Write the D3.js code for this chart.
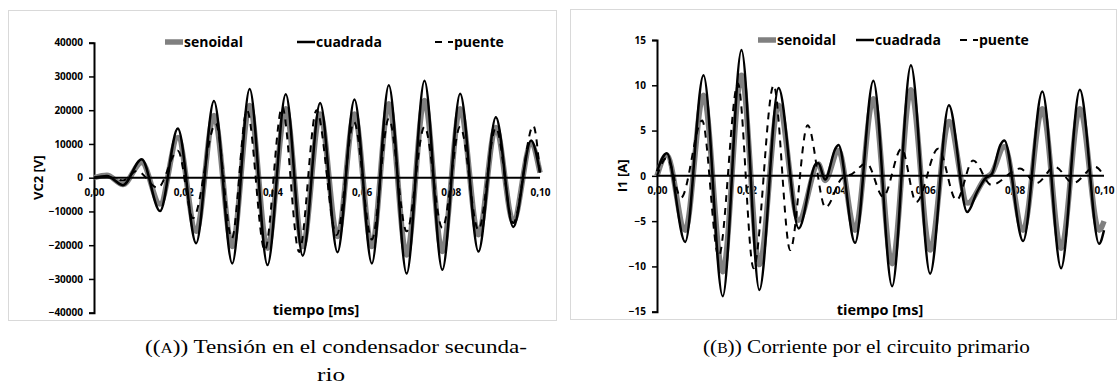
<!DOCTYPE html>
<html>
<head>
<meta charset="utf-8">
<script src="https://cdn.jsdelivr.net/npm/d3@7"></script>
<style>
  html, body { margin: 0; padding: 0; background: #fff; }
  svg { display: block; }
  .tick-label { font-family: "Open Sans", Lato, sans-serif; font-weight: 700; font-size: 10px; fill: #000; }
  .legend-label, .axis-title { font-family: "Open Sans", Lato, sans-serif; font-weight: 700; fill: #000; }
  .caption { font-family: "Liberation Serif", "DejaVu Serif", serif; fill: #000; }
</style>
</head>
<body>
<svg id="chart" width="1117" height="388"></svg>
<script>
// Time axis (ms)
const xTicks = [0, 0.02, 0.04, 0.06, 0.08, 0.10];
const xTickLabels = ["0,00", "0,02", "0,04", "0,06", "0,08", "0,10"];

// Legend entries
const seriesNames = ["senoidal", "cuadrada", "puente"];

// Panel (a): VC2 [V] — [time, value] at turning points of each waveform
const vc2Ticks = [-40000, -30000, -20000, -10000, 0, 10000, 20000, 30000, 40000];
const vc2Senoidal = [
  [0, 0], [0.0029, 700], [0.0065, -2000], [0.0107, 4500], [0.0148, -7800],
  [0.0188, 11900], [0.0229, -15900], [0.0269, 18400], [0.0310, -20400],
  [0.0349, 21400], [0.0389, -20900], [0.0430, 20400], [0.0468, -20400],
  [0.0507, 18900], [0.0546, -17400], [0.0584, 18900], [0.0623, -20400],
  [0.0661, 21900], [0.0701, -22900], [0.0741, 22900], [0.0781, -21900],
  [0.0821, 20400], [0.0862, -16900], [0.0901, 14900], [0.0940, -12900],
  [0.0980, 10000], [0.1000, 1500]
];
const vc2Cuadrada = [
  [0, 0], [0.0029, 500], [0.0065, -2200], [0.0107, 5500], [0.0148, -9900],
  [0.0188, 14600], [0.0229, -19400], [0.0269, 22700], [0.0310, -25400],
  [0.0349, 26300], [0.0389, -25900], [0.0430, 24700], [0.0468, -23100],
  [0.0507, 22100], [0.0546, -22100], [0.0584, 23200], [0.0623, -25400],
  [0.0661, 27400], [0.0701, -28400], [0.0741, 28700], [0.0781, -27300],
  [0.0821, 24900], [0.0862, -21900], [0.0901, 17900], [0.0940, -14600],
  [0.0980, 11000], [0.1000, 1500]
];
const vc2Puente = [
  [0, 0], [0.0029, 300], [0.0065, -800], [0.0096, 2000], [0.0143, -3000],
  [0.0188, 8000], [0.0222, -12000], [0.0273, 16000], [0.0309, -18000],
  [0.0343, 20000], [0.0383, -21500], [0.0422, 21000], [0.0460, -22000],
  [0.0499, 20000], [0.0544, -17000], [0.0583, 16500], [0.0623, -18300],
  [0.0661, 17500], [0.0701, -15900], [0.0741, 15100], [0.0781, -14900],
  [0.0821, 15100], [0.0862, -15500], [0.0901, 14800], [0.0940, -13400],
  [0.0985, 15400], [0.1000, 1000]
];

// Panel (b): I1 [A]
const i1Ticks = [-15, -10, -5, 0, 5, 10, 15];
const i1Senoidal = [
  [0, 0], [0.0022, 2.3], [0.0063, -6.0], [0.0104, 8.9], [0.0147, -10.6],
  [0.0189, 11.1], [0.0229, -9.8], [0.0272, 7.8], [0.0317, -4.9],
  [0.0361, 1.3], [0.0376, -0.5], [0.0406, 2.8], [0.0443, -6.0],
  [0.0484, 8.5], [0.0526, -9.7], [0.0568, 9.5], [0.0611, -8.2],
  [0.0653, 6.0], [0.0695, -3.0], [0.0734, -0.3], [0.0749, 0.3],
  [0.0777, 3.2], [0.0819, -6.0], [0.0862, 7.4], [0.0904, -8.0],
  [0.0946, 7.4], [0.0989, -6.0], [0.1000, -5.0]
];
const i1Cuadrada = [
  [0, 0.5], [0.0022, 2.5], [0.0063, -7.3], [0.0104, 11.1], [0.0147, -13.3],
  [0.0189, 13.9], [0.0229, -12.6], [0.0272, 9.7], [0.0317, -5.8],
  [0.0355, 1.3], [0.0361, 1.4], [0.0376, -0.4], [0.0399, 3.0], [0.0406, 3.4],
  [0.0443, -7.4], [0.0484, 10.5], [0.0526, -12.2], [0.0568, 12.2],
  [0.0611, -10.8], [0.0653, 7.8], [0.0694, -4.0], [0.0716, -1.8],
  [0.0734, -0.3], [0.0749, 0.2], [0.0768, 3.4], [0.0777, 3.9],
  [0.0819, -7.2], [0.0862, 9.3], [0.0904, -10.2], [0.0946, 9.5],
  [0.0989, -7.5], [0.1000, -6.0]
];
const i1Puente = [
  [0, 0], [0.0022, 2.0], [0.0054, -2.4], [0.0101, 6.1], [0.0138, -8.9],
  [0.0181, 10.2], [0.0216, -10.2], [0.0261, 10.0], [0.0298, -8.2],
  [0.0337, 5.6], [0.0377, -3.5], [0.0413, -0.3], [0.0436, 0.2],
  [0.0469, 1.4], [0.0506, -2.3], [0.0547, 3.0], [0.0580, -2.9],
  [0.0629, 3.0], [0.0670, -2.7], [0.0707, 1.7], [0.0748, -1.0],
  [0.0812, 0.8], [0.0849, -0.8], [0.0890, 1.0], [0.0931, -0.8],
  [0.0980, 1.0], [0.1000, 0]
];

const svg = d3.select("#chart");

const seriesStyles = [
  { stroke: "#808080", width: 5.5, dash: null },
  { stroke: "#000", width: 2.5, dash: null },
  { stroke: "#000", width: 2, dash: "7,6" }
];

function drawPanel(cfg) {
  const g = svg.append("g");

  // outer frame
  g.append("rect")
    .attr("x", cfg.frame[0] + 0.5).attr("y", cfg.frame[1] + 0.5)
    .attr("width", cfg.frame[2]).attr("height", cfg.frame[3])
    .attr("fill", "#fff").attr("stroke", "#d9d9d9").attr("stroke-width", 1);

  const x = d3.scaleLinear().domain([0, 0.1]).range([cfg.left, cfg.right]);
  const y = d3.scaleLinear().domain(d3.extent(cfg.yTicks)).range([cfg.bottom, cfg.top]);

  // y axis with outward ticks
  const yAxis = d3.axisLeft(y).tickValues(cfg.yTicks).tickSize(5).tickPadding(6).tickFormat(d3.format("d"));
  const ya = g.append("g").attr("transform", `translate(${cfg.left},0)`).call(yAxis);
  ya.select(".domain").attr("stroke", "#000").attr("stroke-width", 2);
  ya.selectAll(".tick line").attr("stroke", "#000").attr("stroke-width", 1.5);
  ya.selectAll(".tick text").attr("class", "tick-label").attr("font-family", null).attr("font-size", null);

  // x axis labels hang below the zero line
  const xAxis = d3.axisBottom(x).tickValues(xTicks).tickSize(0).tickPadding(11)
    .tickFormat((d, i) => xTickLabels[i]);
  const xa = g.append("g").attr("transform", `translate(0,${y(0)})`).call(xAxis);
  xa.select(".domain").attr("stroke", "none");
  xa.selectAll(".tick text").attr("class", "tick-label").attr("font-family", null).attr("font-size", null);

  const line = d3.line().x(d => x(d[0])).y(d => y(d[1])).curve(d3.curveMonotoneX);

  [cfg.senoidal, cfg.cuadrada, cfg.puente].forEach((data, i) => {
    g.append("path").datum(data).attr("d", line)
      .attr("fill", "none").attr("stroke", seriesStyles[i].stroke)
      .attr("stroke-width", seriesStyles[i].width)
      .attr("stroke-dasharray", seriesStyles[i].dash);
  });

  // zero line over the traces
  g.append("line").attr("x1", cfg.left).attr("x2", cfg.right)
    .attr("y1", y(0)).attr("y2", y(0)).attr("stroke", "#000").attr("stroke-width", 2);

  // legend
  const ly = cfg.legendY;
  cfg.legendX.forEach((lx, i) => {
    g.append("line").attr("x1", lx).attr("x2", lx + 18).attr("y1", ly).attr("y2", ly)
      .attr("stroke", seriesStyles[i].stroke).attr("stroke-width", seriesStyles[i].width)
      .attr("stroke-dasharray", seriesStyles[i].dash);
    g.append("text").attr("class", "legend-label").attr("x", lx + 19).attr("y", ly)
      .attr("dy", "0.35em").attr("font-size", 14).text(seriesNames[i]);
  });

  // axis titles
  g.append("text").attr("class", "axis-title").attr("font-size", 13)
    .attr("text-anchor", "middle")
    .attr("transform", `translate(${cfg.yTitleX},${y(0)}) rotate(-90)`)
    .attr("dy", "0.35em").text(cfg.yTitle);
  g.append("text").attr("class", "axis-title").attr("font-size", 14.5)
    .attr("text-anchor", "middle").attr("x", cfg.xTitleX).attr("y", cfg.xTitleY)
    .attr("dy", "0.35em").text("tiempo [ms]");
}

drawPanel({
  frame: [8, 10, 548, 310],
  left: 94, right: 540, top: 42.7, bottom: 312.7,
  yTicks: vc2Ticks, yTitle: "VC2 [V]", yTitleX: 38,
  xTitleX: 316, xTitleY: 310,
  legendX: [165, 297, 435], legendY: 42,
  senoidal: vc2Senoidal, cuadrada: vc2Cuadrada, puente: vc2Puente
});

drawPanel({
  frame: [570, 9, 546, 310],
  left: 657, right: 1104, top: 40, bottom: 311.7,
  yTicks: i1Ticks, yTitle: "I1 [A]", yTitleX: 622,
  xTitleX: 880, xTitleY: 310,
  legendX: [758, 856, 960], legendY: 40,
  senoidal: i1Senoidal, cuadrada: i1Cuadrada, puente: i1Puente
});

// sub-figure captions
function caption(x, y, letter, rest, width) {
  const t = svg.append("text").attr("class", "caption").attr("x", x).attr("y", y)
    .attr("font-size", 19).attr("textLength", width).attr("lengthAdjust", "spacingAndGlyphs");
  t.append("tspan").text("((");
  t.append("tspan").attr("font-size", 14).text(letter);
  t.append("tspan").text(")) " + rest);
  return t;
}
caption(145, 353, "A", "Tensión en el condensador secunda-", 382);
svg.append("text").attr("class", "caption").attr("x", 331).attr("y", 381)
  .attr("font-size", 19).attr("text-anchor", "middle")
  .attr("textLength", 28).attr("lengthAdjust", "spacingAndGlyphs").text("rio");
caption(703, 353, "B", "Corriente por el circuito primario", 327);
</script>
</body>
</html>
